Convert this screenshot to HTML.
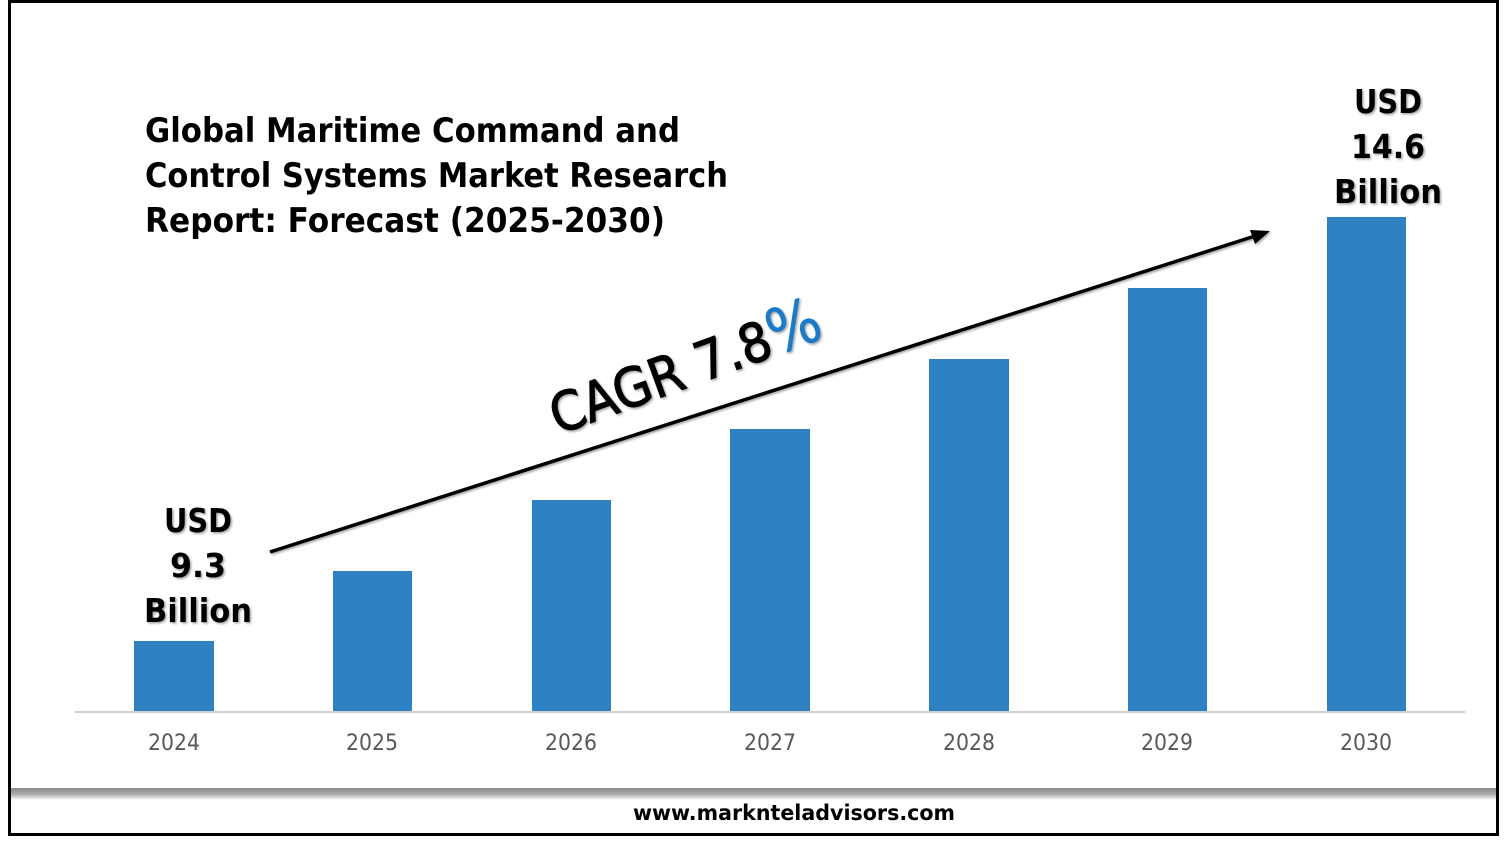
<!DOCTYPE html>
<html><head><meta charset="utf-8"><style>body{margin:0;background:#fff}svg{display:block}</style></head>
<body>
<svg width="1506" height="842" viewBox="0 0 1506 842" xmlns="http://www.w3.org/2000/svg" font-family="'DejaVu Sans','Liberation Sans',sans-serif">
<defs>
<linearGradient id="sh" x1="0" y1="0" x2="0" y2="1">
<stop offset="0" stop-color="#8a8a8a"/><stop offset="0.5" stop-color="#a8a8a8"/><stop offset="1" stop-color="#fff"/>
</linearGradient>
<filter id="ts"><feDropShadow dx="1.5" dy="1.5" stdDeviation="1" flood-color="#000" flood-opacity="0.35"/></filter>
</defs>
<rect x="0" y="0" width="1506" height="842" fill="#fff"/>
<rect x="10" y="788" width="1488" height="12" fill="url(#sh)"/>
<rect x="9.5" y="1.5" width="1488" height="833" fill="none" stroke="#000" stroke-width="3"/>
<g font-weight="bold" font-size="34" fill="#000">
<text x="145" y="142" textLength="535" lengthAdjust="spacingAndGlyphs">Global Maritime Command and</text>
<text x="145" y="187" textLength="583" lengthAdjust="spacingAndGlyphs">Control Systems Market Research</text>
<text x="145" y="232" textLength="520" lengthAdjust="spacingAndGlyphs">Report: Forecast (2025-2030)</text>
</g>
<line x1="75" y1="712" x2="1465" y2="712" stroke="#d0d0d0" stroke-width="2"/>
<g fill="#2e82c3">
<rect x="134" y="641" width="80" height="70"/>
<rect x="333" y="571" width="79" height="140"/>
<rect x="532" y="500" width="79" height="211"/>
<rect x="730" y="429" width="80" height="282"/>
<rect x="929" y="359" width="80" height="352"/>
<rect x="1128" y="288" width="79" height="423"/>
<rect x="1327" y="217" width="79" height="494"/>
</g>
<g font-size="22" fill="#595959" text-anchor="middle">
<text x="174" y="750" textLength="52" lengthAdjust="spacingAndGlyphs">2024</text><text x="372" y="750" textLength="52" lengthAdjust="spacingAndGlyphs">2025</text><text x="571" y="750" textLength="52" lengthAdjust="spacingAndGlyphs">2026</text>
<text x="770" y="750" textLength="52" lengthAdjust="spacingAndGlyphs">2027</text><text x="969" y="750" textLength="52" lengthAdjust="spacingAndGlyphs">2028</text><text x="1167" y="750" textLength="52" lengthAdjust="spacingAndGlyphs">2029</text><text x="1366" y="750" textLength="52" lengthAdjust="spacingAndGlyphs">2030</text>
</g>
<g filter="url(#ts)">
<line x1="270" y1="552" x2="1255" y2="236" stroke="#000" stroke-width="3.5"/>
<polygon points="1270,231 1250,230 1255,244" fill="#000"/>
<text x="692" y="386" font-size="54" text-anchor="middle" transform="rotate(-20 692 386)" fill="#000" stroke="#000" stroke-width="1.2" textLength="285" lengthAdjust="spacingAndGlyphs">CAGR 7.8<tspan fill="#1a7ac8" stroke="#1a7ac8" stroke-width="0.6" font-size="62">%</tspan></text>
</g>
<g font-weight="bold" font-size="33" fill="#000" text-anchor="middle" filter="url(#ts)">
<text x="198" y="532" textLength="68" lengthAdjust="spacingAndGlyphs">USD</text><text x="198" y="577" textLength="56" lengthAdjust="spacingAndGlyphs">9.3</text><text x="198" y="622" textLength="108" lengthAdjust="spacingAndGlyphs">Billion</text>
<text x="1388" y="113" textLength="68" lengthAdjust="spacingAndGlyphs">USD</text><text x="1388" y="158" textLength="74" lengthAdjust="spacingAndGlyphs">14.6</text><text x="1388" y="203" textLength="108" lengthAdjust="spacingAndGlyphs">Billion</text>
</g>
<text x="794" y="820" font-size="21" font-weight="bold" text-anchor="middle" fill="#000" textLength="322" lengthAdjust="spacingAndGlyphs">www.marknteladvisors.com</text>
</svg>
</body></html>
